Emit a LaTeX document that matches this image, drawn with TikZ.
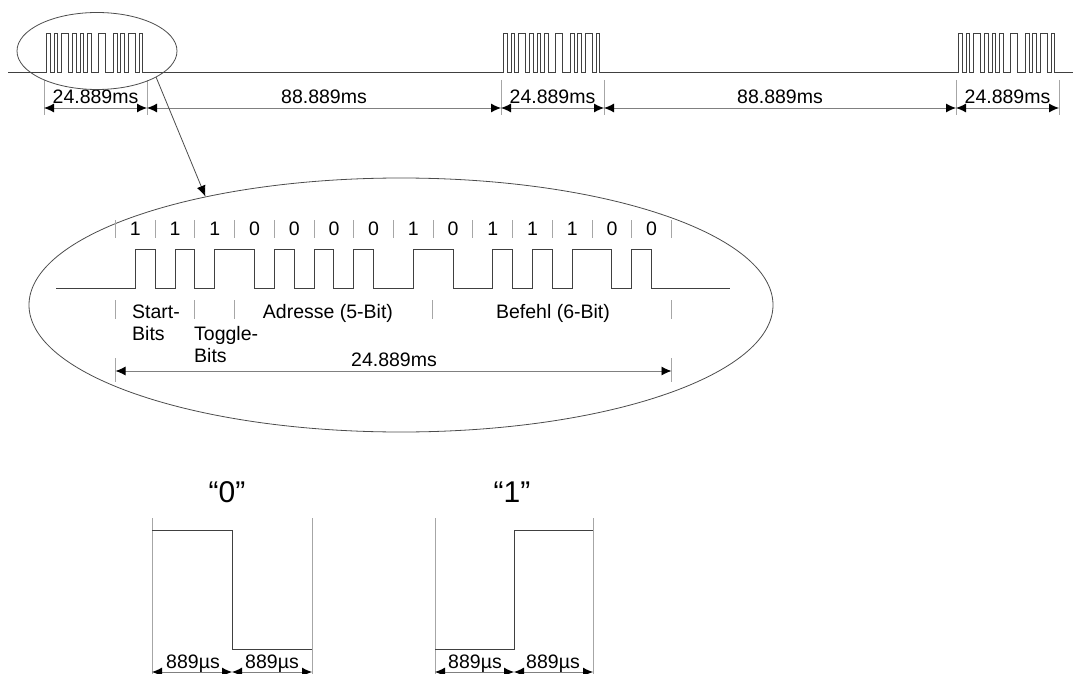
\documentclass[tikz,border=0pt]{standalone}
\usepackage{fontspec}
\setmainfont{Liberation Sans}
\usetikzlibrary{arrows.meta,shapes.geometric}
\begin{document}
\begin{tikzpicture}[x=1pt,y=-1pt,
  sig/.style={draw=black!75, line width=0.9pt},
  tickln/.style={draw=black!35, line width=0.9pt},
  dim/.style={draw=black!50, line width=0.9pt,
    {Latex[length=10pt,width=9pt,black]}-{Latex[length=10pt,width=9pt,black]}},
  lbl/.style={font=\fontsize{19.5}{21}\selectfont, inner sep=0pt},
  biglbl/.style={font=\fontsize{30}{32}\selectfont, inner sep=0pt},
  ell/.style={ellipse, draw=black!70, line width=0.8pt, inner sep=0pt}]
\useasboundingbox (0,0) rectangle (1073,674);

% ---------- top pulse trains ----------
\draw[sig] (8,72)
  \foreach \t in {43,500,955}{
    \foreach \a/\b in {1/2,3/4,5/7,8/9,10/11,12/13,15/17,19/20,21/22,23/25,26/27}{
      -- ({\t+\a*3.7},72) -- ({\t+\a*3.7},33) -- ({\t+\b*3.7},33) -- ({\t+\b*3.7},72)}}
  -- (1073,72);

% top dimension ticks
\foreach \x [count=\i] in {44,147,501,604,956,1059}{
  \coordinate (t\i) at (\x,108);
  \draw[tickln] (\x,80) -- (\x,115);
}
\draw[dim] (t1) -- (t2);
\draw[dim] (t2) -- (t3);
\draw[dim] (t3) -- (t4);
\draw[dim] (t4) -- (t5);
\draw[dim] (t5) -- (t6);
\node[lbl, anchor=base] (d1) at (95.5,104) {24.889ms};
\node[lbl, anchor=base] (d2) at (324,104) {88.889ms};
\node[lbl, anchor=base] (d3) at (552.5,104) {24.889ms};
\node[lbl, anchor=base] (d4) at (780,104) {88.889ms};
\node[lbl, anchor=base] (d5) at (1007.5,104) {24.889ms};

% ---------- ellipses and zoom arrow ----------
\node[ell, minimum width=160pt, minimum height=77pt] (small) at (97,51) {};
\node[ell, minimum width=744pt, minimum height=254pt] (big) at (401,305) {};
\draw[draw=black!70, line width=0.8pt, -{Latex[length=11pt,width=9pt,black]}]
  (small.-24) -- (big.151);

% ---------- zoomed waveform ----------
\draw[sig] (56,288)
  \foreach \a/\b in {1/2,3/4,5/7,8/9,10/11,12/13,15/17,19/20,21/22,23/25,26/27}{
    -- ({115.5+\a*19.857},288) -- ({115.5+\a*19.857},249) -- ({115.5+\b*19.857},249) -- ({115.5+\b*19.857},288)}
  -- (730,288);

\foreach \i in {0,...,14}{
  \draw[tickln] ({115.5+\i*39.714},220) -- ++(0,18);
}
\foreach \v [count=\i from 0] in {1,1,1,0,0,0,0,1,0,1,1,1,0,0}{
  \node[lbl] (bit\i) at ({115.5+(\i+0.5)*39.714},229) {\v};
}

\foreach \x in {115.5,194.9,234.6,432.8,671.5}{
  \draw[tickln] (\x,300) -- (\x,319);
}
\node[lbl, anchor=base west] (st1) at (132,318) {Start-};
\node[lbl, anchor=base west] (st2) at (132,340) {Bits};
\node[lbl, anchor=base west] (tg1) at (194,340) {Toggle-};
\node[lbl, anchor=base west] (tg2) at (194,362) {Bits};
\node[lbl, anchor=base] (adr) at (328,318) {Adresse (5-Bit)};
\node[lbl, anchor=base] (bef) at (553,318) {Befehl (6-Bit)};

\coordinate (m1) at (115.5,371);
\coordinate (m2) at (671.5,371);
\draw[tickln] (115.5,358) -- (115.5,382);
\draw[tickln] (671.5,358) -- (671.5,382);
\draw[dim] (m1) -- (m2);
\node[lbl, anchor=base] (dm) at (394,366) {24.889ms};

% ---------- "0" and "1" symbols ----------
\node[biglbl, anchor=base] (q0) at (227,502) {“0”};
\node[biglbl, anchor=base] (q1) at (512,502) {“1”};

\draw[tickln] (152,518) -- (152,674);
\draw[tickln] (312,518) -- (312,674);
\draw[tickln] (435,518) -- (435,674);
\draw[tickln] (593,518) -- (593,674);
\draw[sig] (152,530) -- (232,530) -- (232,649) -- (312,649);
\draw[sig] (435,649) -- (514,649) -- (514,530) -- (593,530);

\coordinate (z1) at (152,672);
\coordinate (z2) at (232,672);
\coordinate (z3) at (312,672);
\coordinate (o1) at (435,672);
\coordinate (o2) at (514,672);
\coordinate (o3) at (593,672);
\draw[dim] (z1) -- (z2);
\draw[dim] (z2) -- (z3);
\draw[dim] (o1) -- (o2);
\draw[dim] (o2) -- (o3);
\node[lbl, anchor=base] (u1) at (193,668) {889µs};
\node[lbl, anchor=base] (u2) at (272,668) {889µs};
\node[lbl, anchor=base] (u3) at (475,668) {889µs};
\node[lbl, anchor=base] (u4) at (553,668) {889µs};
\end{tikzpicture}
\end{document}
